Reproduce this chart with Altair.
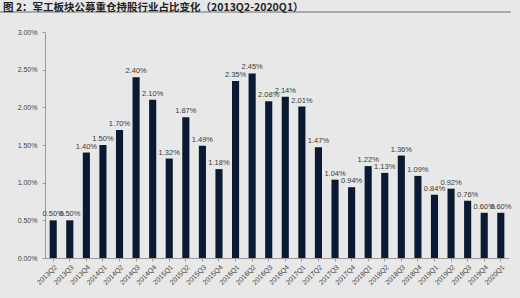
import altair as alt
import pandas as pd

quarters = ["2013Q2","2013Q3","2013Q4","2014Q1","2014Q2","2014Q3","2014Q4",
            "2015Q1","2015Q2","2015Q3","2015Q4","2016Q1","2016Q2","2016Q3","2016Q4",
            "2017Q1","2017Q2","2017Q3","2017Q4","2018Q1","2018Q2","2018Q3","2018Q4",
            "2019Q1","2019Q2","2019Q3","2019Q4","2020Q1"]
values = [0.50,0.50,1.40,1.50,1.70,2.40,2.10,1.32,1.87,1.49,1.18,2.35,2.45,2.08,2.14,
          2.01,1.47,1.04,0.94,1.22,1.13,1.36,1.09,0.84,0.92,0.76,0.60,0.60]
y_ticks = [0.0, 0.5, 1.0, 1.5, 2.0, 2.5, 3.0]
title_text = "图 2：军工板块公募重仓持股行业占比变化（2013Q2-2020Q1）"

df = pd.DataFrame({"q": quarters, "v": values,
                   "label": [f"{v:.2f}%" for v in values]})
one = pd.DataFrame({"t": [title_text]})

x = alt.X("q:N", sort=quarters, title=None,
          scale=alt.Scale(paddingInner=0.57, paddingOuter=0.28),
          axis=alt.Axis(labelAngle=-45, labelFontSize=7, labelColor="#444",
                        labelFont="Liberation Sans", domainColor="#9a9a9a",
                        tickColor="#9a9a9a", tickSize=3, labelPadding=2,
                        labelOverlap=False))
y = alt.Y("v:Q", title=None,
          scale=alt.Scale(domain=[0, 3], nice=False),
          axis=alt.Axis(values=y_ticks, labelExpr="format(datum.value, '.2f') + '%'",
                        labelFontSize=7, labelColor="#444", labelFont="Liberation Sans",
                        domainColor="#9a9a9a", tickColor="#9a9a9a", tickSize=3,
                        grid=False, labelPadding=5, labelOverlap=False))

bars = alt.Chart(df).mark_bar(color="#0b1a33").encode(x=x, y=y)
labels = alt.Chart(df).mark_text(dy=-6, fontSize=7.5, color="#3a3a3a",
                                 font="Liberation Sans").encode(
    x=x, y=y, text="label:N")
rule = alt.Chart(one).mark_rule(color="#a9aca6", strokeWidth=2).encode(
    x=alt.value(-45), x2=alt.value(466), y=alt.value(-20))
title = alt.Chart(one).mark_text(align="left", baseline="alphabetic", fontSize=10.5,
                                 font="Noto Sans CJK SC", fontWeight="bold",
                                 color="#222").encode(
    x=alt.value(-42), y=alt.value(-21.5), text="t:N")

chart = alt.layer(bars, labels, rule, title).properties(
    width=464, height=226,
    autosize=alt.AutoSizeParams(type="none"),
    padding={"left": 45, "top": 32, "right": 11, "bottom": 40},
    background="#e8e8e8",
).configure_view(stroke=None)

chart.save("out.html", embed_options={"renderer": "svg", "actions": False})
